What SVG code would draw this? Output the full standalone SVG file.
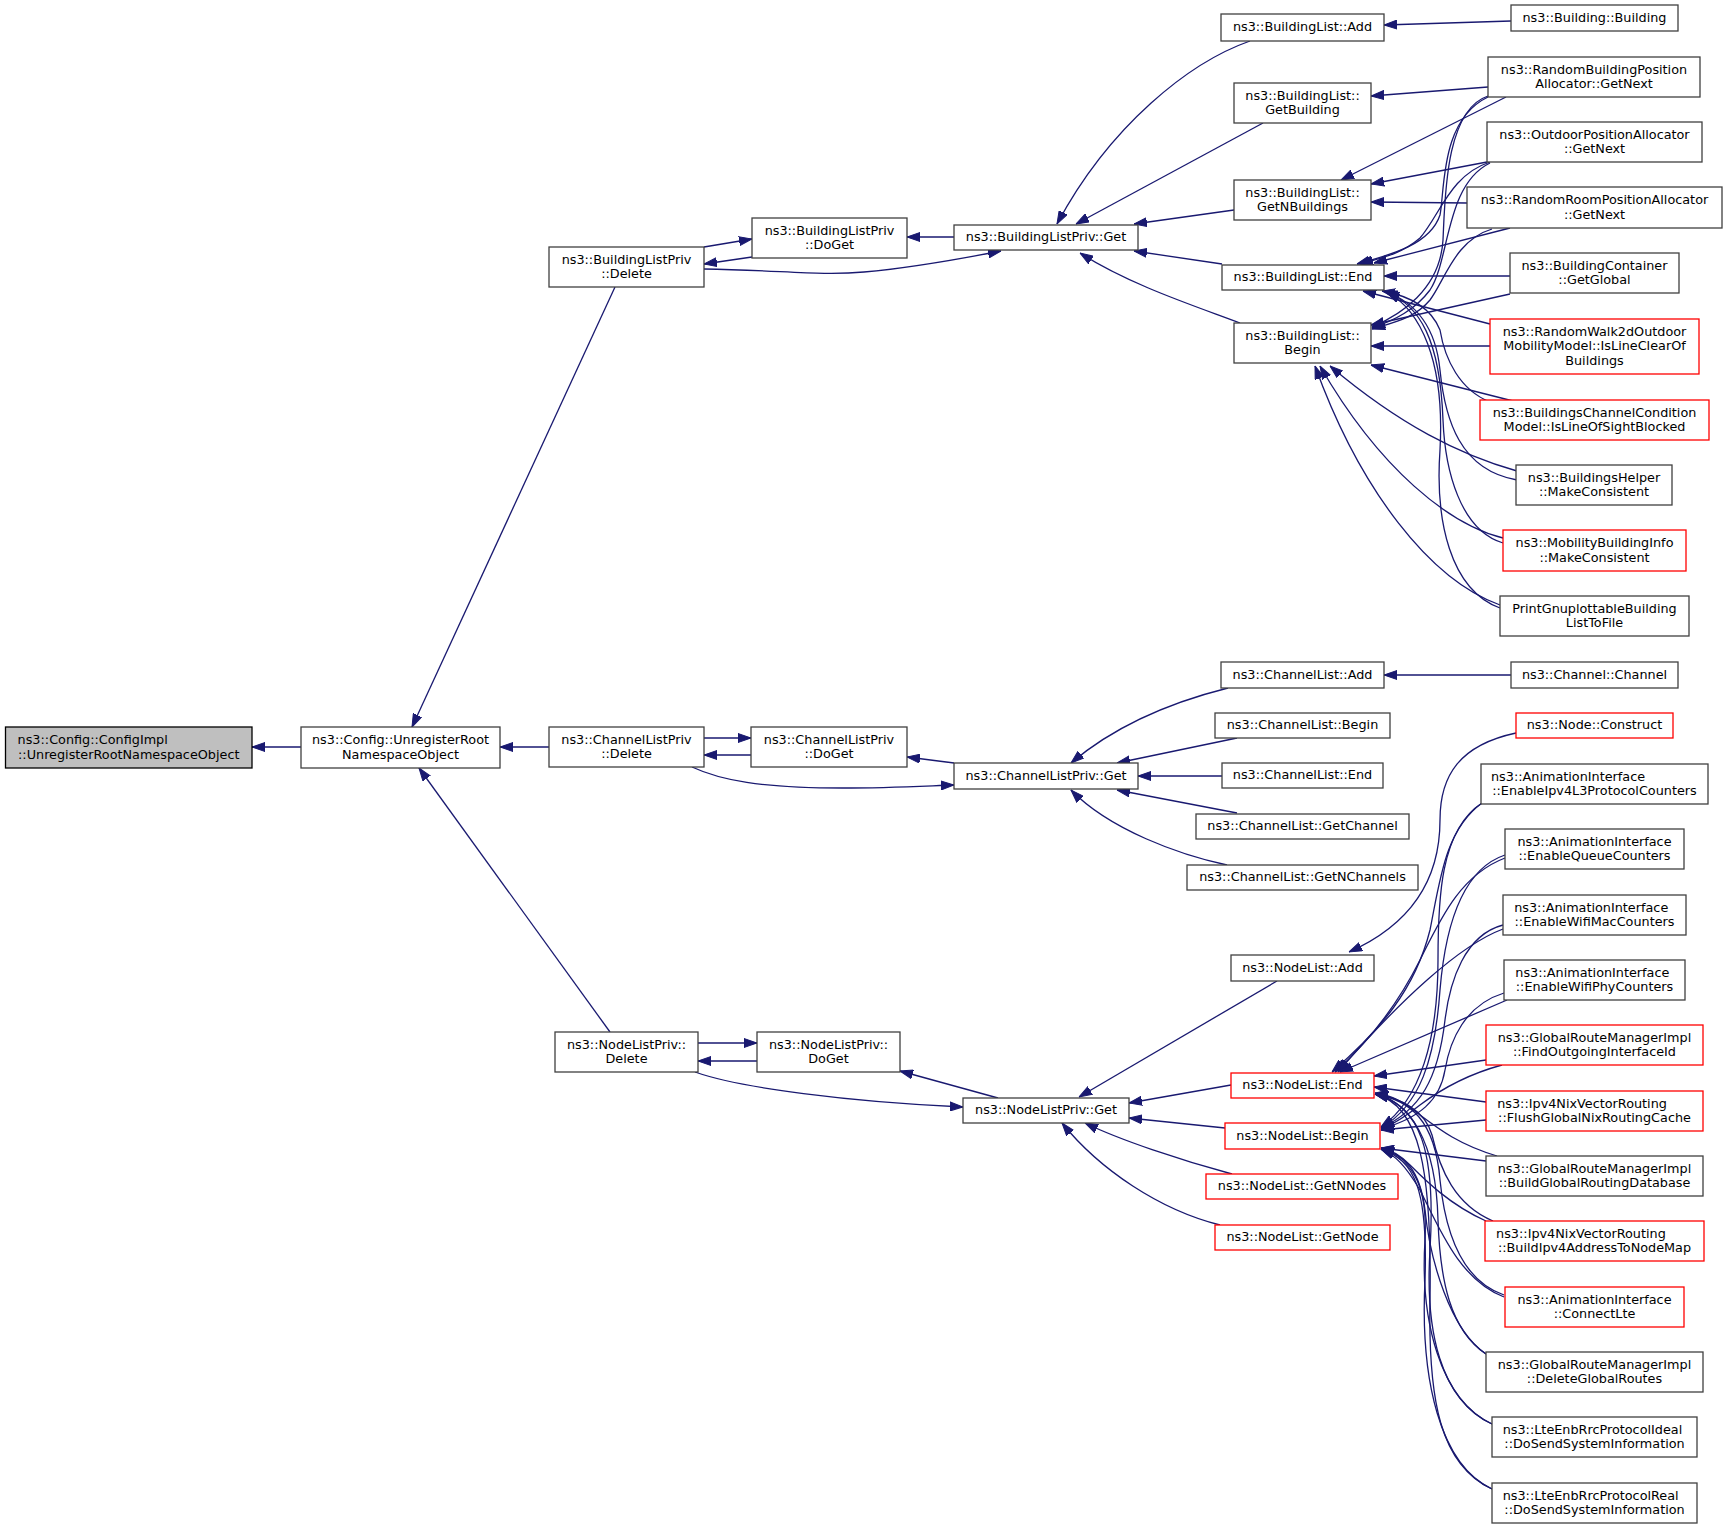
<svg xmlns="http://www.w3.org/2000/svg" width="1728" height="1528" viewBox="0 0 1728 1528">
<defs>
<style>
.node rect{fill:#fff;stroke:#404040;stroke-width:1.3}
.node.red rect{stroke:#ff0000}
.node.root rect{fill:#bfbfbf;stroke:#000}
text{font-family:"DejaVu Sans","Liberation Sans",sans-serif;font-size:12.8px;fill:#000;text-anchor:middle}
text .s{text-anchor:start}
.edges path{fill:none;stroke:#191970;stroke-width:1.3;marker-end:url(#arr)}
</style>
<marker id="arr" markerUnits="userSpaceOnUse" markerWidth="13" markerHeight="10" viewBox="0 0 13 10" refX="13" refY="5" orient="auto">
<path d="M0,0.5 L13,5 L0,9.5 z" fill="#191970" stroke="#191970" stroke-width="1"/>
</marker>
</defs>
<rect width="1728" height="1528" fill="#fff"/>
<g class="edges" id="edges">
<path d="M301,747 L252,747"/>
<path d="M615,287 L412,727"/>
<path d="M549,747 L500,747"/>
<path d="M610,1032 L419,768"/>
<path d="M704,247 L752,239"/>
<path d="M752,257 L704,264"/>
<path d="M954,237 L907,237"/>
<path d="M704,269 C780,270 820,276 864,272 C910,268 960,259 1001,251"/>
<path d="M1250,41 C1190,62 1110,125 1057,224"/>
<path d="M1263,123 L1076,224"/>
<path d="M1234,210 L1134,224"/>
<path d="M1222,264 L1134,251"/>
<path d="M1240,323 C1195,306 1130,285 1080,253"/>
<path d="M1511,21 L1384,25"/>
<path d="M1488,87 L1371,96"/>
<path d="M1506,97 L1341,180"/>
<path d="M1487,162 L1371,184"/>
<path d="M1467,203 L1371,202"/>
<path d="M1488,97 C1440,120 1445,190 1440,215 C1430,245 1390,255 1357,264"/>
<path d="M1488,96 C1445,110 1445,200 1443,240 C1440,290 1400,315 1372,327"/>
<path d="M1490,162 C1450,175 1440,215 1420,238 C1400,255 1380,258 1360,264"/>
<path d="M1490,163 C1445,185 1450,260 1430,290 C1415,310 1395,320 1372,328"/>
<path d="M1510,228 L1374,263"/>
<path d="M1492,229 C1455,240 1445,280 1430,300 C1415,318 1395,322 1372,329"/>
<path d="M1510,276 L1384,276"/>
<path d="M1510,294 L1371,325"/>
<path d="M1490,324 L1363,291"/>
<path d="M1490,346 L1371,346"/>
<path d="M1490,402 C1460,390 1445,360 1440,330 C1430,305 1405,295 1382,291"/>
<path d="M1517,402 L1371,365"/>
<path d="M1517,480 C1460,470 1445,420 1440,370 C1435,320 1410,300 1384,291"/>
<path d="M1517,471 C1460,455 1400,425 1330,366"/>
<path d="M1503,543 C1460,530 1445,470 1443,420 C1440,340 1420,305 1386,292"/>
<path d="M1503,538 C1450,525 1380,470 1320,366"/>
<path d="M1500,608 C1450,590 1435,520 1440,450 C1445,360 1420,310 1387,292"/>
<path d="M1500,605 C1430,580 1360,490 1315,366"/>
<path d="M704,738 L751,738"/>
<path d="M751,755 L704,755"/>
<path d="M954,763 L907,757"/>
<path d="M692,767 C720,780 760,788 842,788 C890,788 925,786 954,785"/>
<path d="M1228,688 C1160,705 1110,730 1071,763"/>
<path d="M1237,738 L1117,763"/>
<path d="M1222,776 L1138,776"/>
<path d="M1237,813 L1117,790"/>
<path d="M1227,865 C1180,855 1110,830 1071,790"/>
<path d="M1511,675 L1384,675"/>
<path d="M698,1043 L757,1043"/>
<path d="M757,1061 L698,1061"/>
<path d="M998,1098 L900,1071"/>
<path d="M695,1072 C740,1088 850,1102 963,1107"/>
<path d="M1277,981 L1079,1097"/>
<path d="M1231,1085 L1129,1103"/>
<path d="M1225,1128 L1129,1118"/>
<path d="M1232,1174 C1180,1160 1120,1140 1085,1123"/>
<path d="M1220,1225 C1160,1210 1100,1170 1062,1123"/>
<path d="M1516,733 C1460,745 1440,775 1440,820 C1440,880 1410,925 1349,952"/>
<path d="M1482,803 C1445,830 1440,880 1430,930 C1415,990 1380,1030 1332,1072"/>
<path d="M1482,803 C1440,830 1438,900 1438,960 C1438,1040 1420,1100 1381,1127"/>
<path d="M1505,858 C1460,875 1440,920 1420,960 C1395,1010 1365,1045 1335,1072"/>
<path d="M1505,855 C1460,870 1445,930 1440,990 C1435,1060 1420,1105 1381,1128"/>
<path d="M1503,929 C1460,945 1400,1000 1338,1072"/>
<path d="M1503,925 C1465,935 1450,980 1445,1020 C1438,1080 1420,1110 1381,1128"/>
<path d="M1507,1000 L1340,1072"/>
<path d="M1504,993 C1465,1005 1450,1040 1445,1070 C1440,1100 1420,1118 1381,1129"/>
<path d="M1486,1060 L1374,1076"/>
<path d="M1502,1065 C1465,1075 1440,1090 1420,1105 C1405,1117 1395,1123 1381,1130"/>
<path d="M1486,1102 L1374,1087"/>
<path d="M1486,1120 L1381,1130"/>
<path d="M1497,1156 C1460,1145 1440,1130 1420,1115 C1405,1102 1390,1095 1375,1093"/>
<path d="M1486,1161 L1381,1148"/>
<path d="M1493,1221 C1455,1205 1440,1170 1432,1135 C1425,1110 1400,1098 1375,1094"/>
<path d="M1486,1221 C1450,1205 1425,1180 1410,1165 C1400,1155 1392,1150 1381,1148"/>
<path d="M1504,1295 C1460,1280 1445,1230 1440,1180 C1435,1120 1410,1100 1375,1094"/>
<path d="M1504,1297 C1460,1280 1440,1230 1420,1190 C1405,1165 1395,1155 1381,1149"/>
<path d="M1486,1354 C1450,1330 1440,1280 1438,1220 C1436,1140 1410,1102 1375,1094"/>
<path d="M1486,1354 C1450,1330 1430,1260 1425,1210 C1420,1170 1405,1155 1381,1149"/>
<path d="M1492,1424 C1440,1400 1425,1330 1430,1250 C1436,1150 1420,1105 1375,1094"/>
<path d="M1492,1424 C1440,1400 1420,1320 1425,1240 C1428,1180 1410,1160 1381,1149"/>
<path d="M1492,1489 C1440,1465 1428,1400 1430,1300 C1432,1170 1420,1105 1375,1094"/>
<path d="M1492,1489 C1440,1465 1420,1380 1425,1280 C1428,1190 1415,1160 1381,1149"/>
</g>
<g id="n0" class="node root"><rect x="5.5" y="727" width="246.5" height="41"/><text><tspan class="s" x="17.6" y="744">ns3::Config::ConfigImpl</tspan><tspan x="128.75" y="758.6">::UnregisterRootNamespaceObject</tspan></text></g>
<g id="n1" class="node"><rect x="301" y="727" width="199" height="41"/><text><tspan x="400.5" y="744">ns3::Config::UnregisterRoot</tspan><tspan x="400.5" y="758.6">NamespaceObject</tspan></text></g>
<g id="n2" class="node"><rect x="549" y="247" width="155" height="40"/><text><tspan x="626.5" y="263.5">ns3::BuildingListPriv</tspan><tspan x="626.5" y="278.1">::Delete</tspan></text></g>
<g id="n3" class="node"><rect x="752" y="218" width="155" height="40"/><text><tspan x="829.5" y="234.5">ns3::BuildingListPriv</tspan><tspan x="829.5" y="249.1">::DoGet</tspan></text></g>
<g id="n4" class="node"><rect x="954" y="225" width="184" height="25"/><text x="1046" y="241.3">ns3::BuildingListPriv::Get</text></g>
<g id="n5" class="node"><rect x="1221" y="14" width="163" height="27"/><text x="1302.5" y="31.3">ns3::BuildingList::Add</text></g>
<g id="n6" class="node"><rect x="1234" y="83" width="137" height="40"/><text><tspan x="1302.5" y="99.5">ns3::BuildingList::</tspan><tspan x="1302.5" y="114.1">GetBuilding</tspan></text></g>
<g id="n7" class="node"><rect x="1234" y="180" width="137" height="40"/><text><tspan x="1302.5" y="196.5">ns3::BuildingList::</tspan><tspan x="1302.5" y="211.1">GetNBuildings</tspan></text></g>
<g id="n8" class="node"><rect x="1222" y="265" width="162" height="25"/><text x="1303" y="281.3">ns3::BuildingList::End</text></g>
<g id="n9" class="node"><rect x="1234" y="323" width="137" height="40"/><text><tspan x="1302.5" y="339.5">ns3::BuildingList::</tspan><tspan x="1302.5" y="354.1">Begin</tspan></text></g>
<g id="n10" class="node"><rect x="1511" y="5" width="167" height="26"/><text x="1594.5" y="21.8">ns3::Building::Building</text></g>
<g id="n11" class="node"><rect x="1488" y="57" width="212" height="40"/><text><tspan x="1594" y="73.5">ns3::RandomBuildingPosition</tspan><tspan x="1594" y="88.1">Allocator::GetNext</tspan></text></g>
<g id="n12" class="node"><rect x="1487" y="122" width="215" height="40"/><text><tspan x="1594.5" y="138.5">ns3::OutdoorPositionAllocator</tspan><tspan x="1594.5" y="153.1">::GetNext</tspan></text></g>
<g id="n13" class="node"><rect x="1467" y="187" width="255" height="41"/><text><tspan x="1594.5" y="204">ns3::RandomRoomPositionAllocator</tspan><tspan x="1594.5" y="218.6">::GetNext</tspan></text></g>
<g id="n14" class="node"><rect x="1510" y="253" width="169" height="40"/><text><tspan x="1594.5" y="269.5">ns3::BuildingContainer</tspan><tspan x="1594.5" y="284.1">::GetGlobal</tspan></text></g>
<g id="n15" class="node red"><rect x="1490" y="319" width="209" height="55"/><text><tspan x="1594.5" y="335.7">ns3::RandomWalk2dOutdoor</tspan><tspan x="1594.5" y="350.3">MobilityModel::IsLineClearOf</tspan><tspan x="1594.5" y="364.9">Buildings</tspan></text></g>
<g id="n16" class="node red"><rect x="1480" y="400" width="229" height="40"/><text><tspan x="1594.5" y="416.5">ns3::BuildingsChannelCondition</tspan><tspan x="1594.5" y="431.1">Model::IsLineOfSightBlocked</tspan></text></g>
<g id="n17" class="node"><rect x="1516" y="465" width="156" height="40"/><text><tspan x="1594" y="481.5">ns3::BuildingsHelper</tspan><tspan x="1594" y="496.1">::MakeConsistent</tspan></text></g>
<g id="n18" class="node red"><rect x="1503" y="530" width="183" height="41"/><text><tspan x="1594.5" y="547">ns3::MobilityBuildingInfo</tspan><tspan x="1594.5" y="561.6">::MakeConsistent</tspan></text></g>
<g id="n19" class="node"><rect x="1500" y="596" width="189" height="40"/><text><tspan x="1594.5" y="612.5">PrintGnuplottableBuilding</tspan><tspan x="1594.5" y="627.1">ListToFile</tspan></text></g>
<g id="n20" class="node"><rect x="549" y="727" width="155" height="40"/><text><tspan x="626.5" y="743.5">ns3::ChannelListPriv</tspan><tspan x="626.5" y="758.1">::Delete</tspan></text></g>
<g id="n21" class="node"><rect x="751" y="727" width="156" height="40"/><text><tspan x="829" y="743.5">ns3::ChannelListPriv</tspan><tspan x="829" y="758.1">::DoGet</tspan></text></g>
<g id="n22" class="node"><rect x="954" y="763" width="184" height="26"/><text x="1046" y="779.8">ns3::ChannelListPriv::Get</text></g>
<g id="n23" class="node"><rect x="1221" y="662" width="163" height="26"/><text x="1302.5" y="678.8">ns3::ChannelList::Add</text></g>
<g id="n24" class="node"><rect x="1511" y="662" width="167" height="26"/><text x="1594.5" y="678.8">ns3::Channel::Channel</text></g>
<g id="n25" class="node"><rect x="1215" y="713" width="175" height="25"/><text x="1302.5" y="729.3">ns3::ChannelList::Begin</text></g>
<g id="n26" class="node"><rect x="1222" y="763" width="161" height="25"/><text x="1302.5" y="779.3">ns3::ChannelList::End</text></g>
<g id="n27" class="node"><rect x="1196" y="814" width="213" height="25"/><text x="1302.5" y="830.3">ns3::ChannelList::GetChannel</text></g>
<g id="n28" class="node"><rect x="1187" y="865" width="231" height="25"/><text x="1302.5" y="881.3">ns3::ChannelList::GetNChannels</text></g>
<g id="n29" class="node"><rect x="555" y="1032" width="143" height="40"/><text><tspan x="626.5" y="1048.5">ns3::NodeListPriv::</tspan><tspan x="626.5" y="1063.1">Delete</tspan></text></g>
<g id="n30" class="node"><rect x="757" y="1032" width="143" height="40"/><text><tspan x="828.5" y="1048.5">ns3::NodeListPriv::</tspan><tspan x="828.5" y="1063.1">DoGet</tspan></text></g>
<g id="n31" class="node"><rect x="963" y="1098" width="166" height="25"/><text x="1046" y="1114.3">ns3::NodeListPriv::Get</text></g>
<g id="n32" class="node"><rect x="1231" y="955" width="143" height="26"/><text x="1302.5" y="971.8">ns3::NodeList::Add</text></g>
<g id="n33" class="node red"><rect x="1231" y="1073" width="143" height="25"/><text x="1302.5" y="1089.3">ns3::NodeList::End</text></g>
<g id="n34" class="node red"><rect x="1225" y="1123" width="155" height="26"/><text x="1302.5" y="1139.8">ns3::NodeList::Begin</text></g>
<g id="n35" class="node red"><rect x="1206" y="1174" width="192" height="25"/><text x="1302" y="1190.3">ns3::NodeList::GetNNodes</text></g>
<g id="n36" class="node red"><rect x="1215" y="1225" width="175" height="25"/><text x="1302.5" y="1241.3">ns3::NodeList::GetNode</text></g>
<g id="n37" class="node red"><rect x="1516" y="713" width="157" height="25"/><text x="1594.5" y="729.3">ns3::Node::Construct</text></g>
<g id="n38" class="node"><rect x="1481" y="764" width="227" height="40"/><text><tspan class="s" x="1491" y="780.5">ns3::AnimationInterface</tspan><tspan x="1594.5" y="795.1">::EnableIpv4L3ProtocolCounters</tspan></text></g>
<g id="n39" class="node"><rect x="1505" y="829" width="179" height="40"/><text><tspan x="1594.5" y="845.5">ns3::AnimationInterface</tspan><tspan x="1594.5" y="860.1">::EnableQueueCounters</tspan></text></g>
<g id="n40" class="node"><rect x="1503" y="895" width="183" height="40"/><text><tspan class="s" x="1514.2" y="911.5">ns3::AnimationInterface</tspan><tspan x="1594.5" y="926.1">::EnableWifiMacCounters</tspan></text></g>
<g id="n41" class="node"><rect x="1504" y="960" width="181" height="40"/><text><tspan class="s" x="1515.3" y="976.5">ns3::AnimationInterface</tspan><tspan x="1594.5" y="991.1">::EnableWifiPhyCounters</tspan></text></g>
<g id="n42" class="node red"><rect x="1486" y="1025" width="217" height="40"/><text><tspan x="1594.5" y="1041.5">ns3::GlobalRouteManagerImpl</tspan><tspan x="1594.5" y="1056.1">::FindOutgoingInterfaceId</tspan></text></g>
<g id="n43" class="node red"><rect x="1486" y="1091" width="217" height="40"/><text><tspan class="s" x="1497.2" y="1107.5">ns3::Ipv4NixVectorRouting</tspan><tspan x="1594.5" y="1122.1">::FlushGlobalNixRoutingCache</tspan></text></g>
<g id="n44" class="node"><rect x="1486" y="1156" width="217" height="40"/><text><tspan x="1594.5" y="1172.5">ns3::GlobalRouteManagerImpl</tspan><tspan x="1594.5" y="1187.1">::BuildGlobalRoutingDatabase</tspan></text></g>
<g id="n45" class="node red"><rect x="1485" y="1221" width="219" height="40"/><text><tspan class="s" x="1496.1" y="1237.5">ns3::Ipv4NixVectorRouting</tspan><tspan x="1594.5" y="1252.1">::BuildIpv4AddressToNodeMap</tspan></text></g>
<g id="n46" class="node red"><rect x="1505" y="1287" width="179" height="40"/><text><tspan x="1594.5" y="1303.5">ns3::AnimationInterface</tspan><tspan x="1594.5" y="1318.1">::ConnectLte</tspan></text></g>
<g id="n47" class="node"><rect x="1486" y="1352" width="217" height="40"/><text><tspan x="1594.5" y="1368.5">ns3::GlobalRouteManagerImpl</tspan><tspan x="1594.5" y="1383.1">::DeleteGlobalRoutes</tspan></text></g>
<g id="n48" class="node"><rect x="1492" y="1417" width="205" height="40"/><text><tspan class="s" x="1502.7" y="1433.5">ns3::LteEnbRrcProtocolIdeal</tspan><tspan x="1594.5" y="1448.1">::DoSendSystemInformation</tspan></text></g>
<g id="n49" class="node"><rect x="1492" y="1483" width="205" height="40"/><text><tspan class="s" x="1502.7" y="1499.5">ns3::LteEnbRrcProtocolReal</tspan><tspan x="1594.5" y="1514.1">::DoSendSystemInformation</tspan></text></g>
</svg>
